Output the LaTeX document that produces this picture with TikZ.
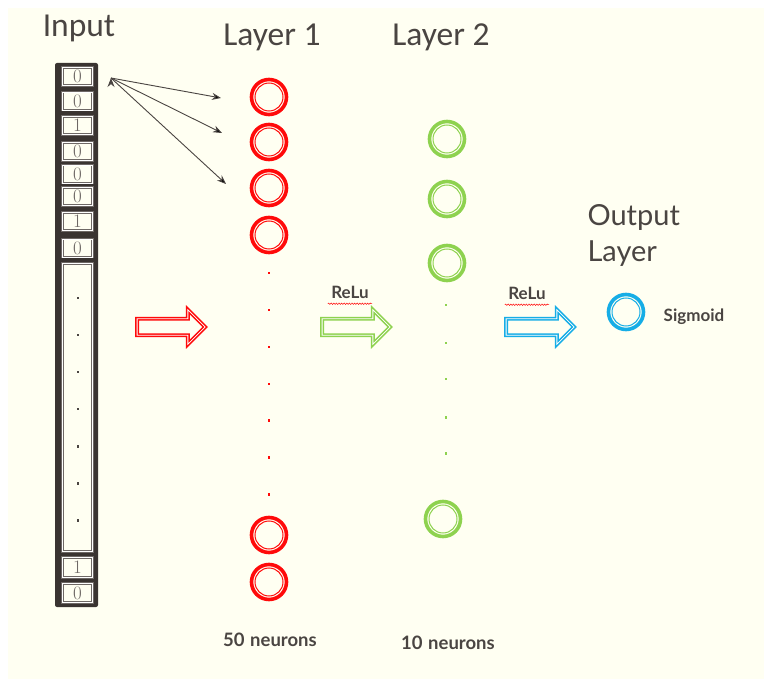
\documentclass[tikz,border=0pt]{standalone}
\usepackage{fontspec}
\newfontfamily\headfont{Carlito}
\newfontfamily\lato{Lato}
\newfontfamily\digits{Latin Modern Roman}
\usepackage{tikz}
\usetikzlibrary{positioning}
\usetikzlibrary{arrows.meta,shapes.arrows,decorations.pathmorphing}

\definecolor{paper}{HTML}{FFFFF2}
\definecolor{ink}{HTML}{4A4542}
\definecolor{column}{HTML}{3A3431}
\definecolor{cellline}{HTML}{6E6865}
\definecolor{redn}{HTML}{FF0A0A}
\definecolor{greenn}{HTML}{8ED24F}
\definecolor{bluen}{HTML}{16ADE6}

\begin{document}
\begin{tikzpicture}[x=1pt,y=-1pt,>={Stealth[length=9pt,width=7pt]},
  neuron/.style={circle,draw=#1,line width=3.6pt,minimum size=35pt,inner sep=0pt,
    path picture={\draw[#1,line width=1pt] (path picture bounding box.center) circle (14pt);}},
  cell/.style={draw=cellline,line width=1pt,double=white,double distance=0.7pt,fill=paper,
    minimum width=30pt,minimum height=18pt,inner sep=0pt,text=cellline,font=\digits\fontsize{19}{19}\selectfont},
  bigarrow/.style={single arrow,draw=#1,line width=1.5pt,double=white,double distance=0.8pt,
    minimum height=68pt,inner xsep=0pt,inner ysep=7.5pt,single arrow head extend=9pt},
  title/.style={text=ink,font=\headfont\fontsize{33.5}{34}\selectfont},
  tag/.style={text=ink,font=\lato\bfseries\fontsize{17}{18}\selectfont},
  squiggle/.style={redn,line width=0.5pt,decorate,decoration={snake,amplitude=0.7pt,segment length=2.6pt}}]

  % page and paper
  \useasboundingbox (0,0) rectangle (764,679);
  \fill[white] (0,0) rectangle (764,679);
  \fill[paper] (8,8) rectangle (764,679);

  % headings
  \node[title] (inputlbl) at (79,28)  {Input};
  \node[title] (l1lbl)    at (272,37) {Layer 1};
  \node[title] (l2lbl)    at (441,37) {Layer 2};
  \node[text=ink,font=\lato\fontsize{29}{36}\selectfont,align=left,anchor=west] (outlbl) at (584,235) {Output\\Layer};

  % input vector
  \fill[column,rounded corners=2pt] (55,63) rectangle (98,607);
  \foreach \y/\v [count=\i] in {76.5/0,101/0,125.5/1,151.5/0,174/0,196.5/0,221.5/1,248/0}
    \node[cell] (in\i) at (77.5,\y) {\v};
  \node[cell,minimum height=288pt] (inmid) at (77.5,407.5) {};
  \foreach \y in {297,334,371,408,445,482,519}
    \fill[ink] (76.5,\y) rectangle +(2.5,2.5);
  \node[cell,minimum height=20pt] (in9)  at (77.5,567.5) {1};
  \node[cell,minimum height=19pt] (in10) at (77.5,593)   {0};

  % layer 1
  \node[neuron=redn] (a1) at (269,97)  {};
  \node[neuron=redn] (a2) at (269,142) {};
  \node[neuron=redn] (a3) at (269,188) {};
  \node[neuron=redn] (a4) at (269,235) {};
  \foreach \y in {272,309,346,383,419,456,493}
    \fill[redn] (267.8,\y) rectangle +(2.5,2.5);
  \node[neuron=redn] (a49) at (269,535) {};
  \node[neuron=redn] (a50) at (269,582) {};

  % layer 2
  \node[neuron=greenn] (b1) at (447,139) {};
  \node[neuron=greenn] (b2) at (447,199) {};
  \node[neuron=greenn] (b3) at (447,263) {};
  \foreach \y in {304,342,378,416,452}
    \fill[greenn] (444.8,\y) rectangle +(2.5,2.5);
  \node[neuron=greenn] (b10) at (443,519) {};

  % output
  \node[neuron=bluen] (out) at (626,312) {};
  \node[tag] (sig) at (694,317) {Sigmoid};

  % weights from the first input
  \coordinate (fan) at (111,78);
  \coordinate (w1) at (221,98);
  \coordinate (w2) at (222,133);
  \coordinate (w3) at (226,184);
  \path[->,draw=ink,line width=0.9pt]
    (fan) edge (w1)
    (fan) edge (w2)
    (fan) edge (w3);

  % flow between layers
  \node[bigarrow=redn]   (f1) at (167,327) {};
  \node[bigarrow=greenn] (f2) at (352,327) {};
  \node[bigarrow=bluen]  (f3) at (536,327) {};
  \node[tag] (relu1) at (350,292) {ReLu};
  \node[tag] (relu2) at (527,293) {ReLu};
  \draw[squiggle] ([yshift=-2pt]relu1.south west) -- ([yshift=-2pt]relu1.south east);
  \draw[squiggle] ([yshift=-2pt]relu2.south west) -- ([yshift=-2pt]relu2.south east);

  % sizes
  \node[tag,font=\lato\bfseries\fontsize{18.5}{19}\selectfont] (n50) at (270,640) {50\hspace{0.3em}neurons};
  \node[tag,font=\lato\bfseries\fontsize{18.5}{19}\selectfont] (n10) at (448,643) {10\hspace{0.3em}neurons};
\end{tikzpicture}
\end{document}
